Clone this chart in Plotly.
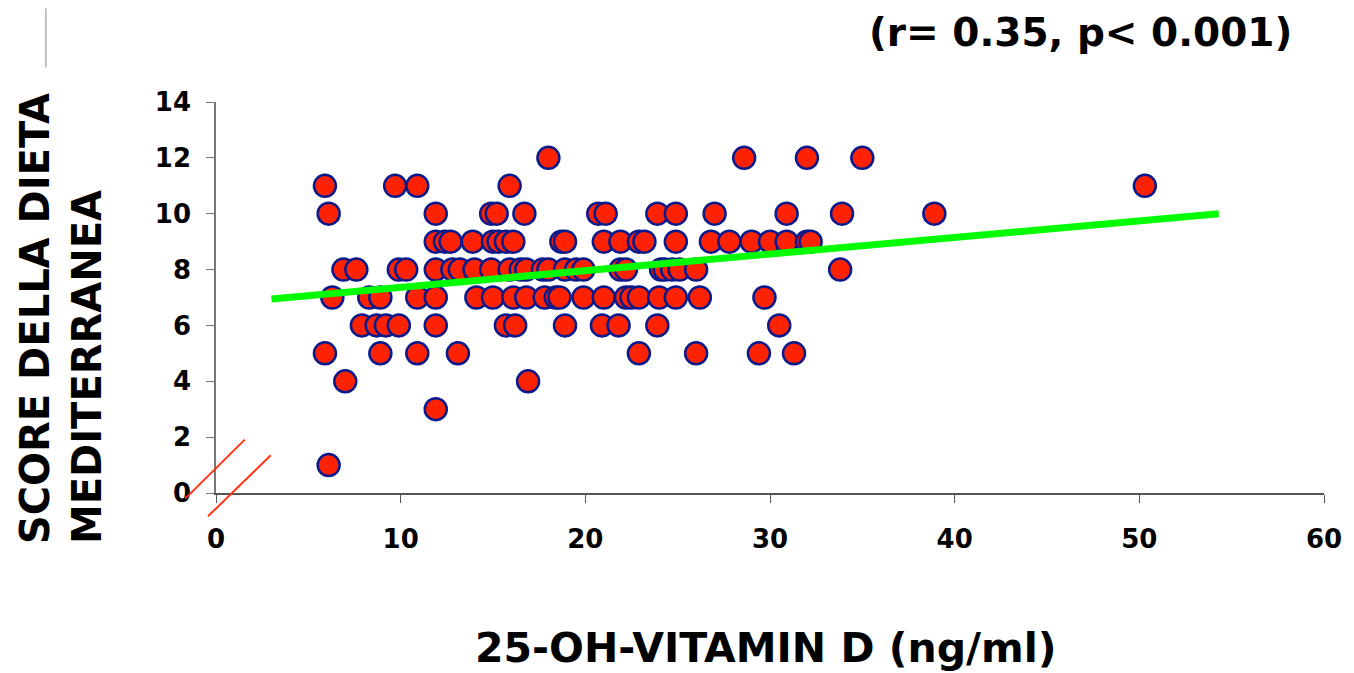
import plotly.graph_objects as go

# 25-OH-vitamin D (ng/ml) and Mediterranean diet score, read row by row
vit_d = [
    18.0, 28.6, 32.0, 35.0,
    5.9, 9.7, 10.9, 15.9, 50.3,
    6.1, 11.9, 14.9, 15.2, 16.7, 20.7, 21.1, 23.9, 24.9, 27.0, 30.9, 33.9, 38.9,
    11.9, 12.4, 12.7, 13.9, 15.0, 15.3, 15.7, 16.1, 18.7, 18.9, 21.0, 21.9, 22.9, 23.2, 24.9, 26.8, 27.8, 29.0, 30.0, 30.9, 32.0, 32.2,
    6.9, 7.6, 9.9, 10.3, 11.9, 12.8, 13.2, 14.0, 14.9, 15.9, 16.5, 16.8, 17.7, 18.0, 18.9, 19.5, 19.9, 21.9, 22.2, 24.1, 24.3, 24.7, 25.1, 26.0, 33.8,
    6.3, 8.3, 8.9, 10.9, 11.9, 14.1, 15.0, 16.1, 16.8, 17.8, 18.4, 18.6, 19.9, 21.0, 22.2, 22.5, 22.9, 24.0, 24.9, 26.2, 29.7,
    7.9, 8.7, 9.2, 9.9, 11.9, 15.7, 16.2, 18.9, 20.9, 21.8, 23.9, 30.5,
    5.9, 8.9, 10.9, 13.1, 22.9, 26.0, 29.4, 31.3,
    7.0, 16.9,
    11.9,
    6.1,
]
score = (
    [12] * 4 + [11] * 5 + [10] * 13 + [9] * 22 + [8] * 25 + [7] * 21
    + [6] * 12 + [5] * 8 + [4] * 2 + [3] * 1 + [1] * 1
)

trend_x = [3.0, 54.3]
trend_y = [6.95, 10.0]

x_ticks = [0, 10, 20, 30, 40, 50, 60]
y_ticks = [0, 2, 4, 6, 8, 10, 12, 14]

stat_text = "(r= 0.35, p< 0.001)"
x_title = "25-OH-VITAMIN D (ng/ml)"
y_title = "SCORE DELLA DIETA<br>MEDITERRANEA"

FONT = "Comic Sans MS, Verdana, DejaVu Sans, sans-serif"

fig = go.Figure()
fig.add_trace(go.Scatter(
    x=vit_d, y=score, mode="markers",
    marker=dict(size=22, color="#ff2200", line=dict(color="#0a1a8c", width=2.5)),
    showlegend=False, cliponaxis=False,
))
fig.add_trace(go.Scatter(
    x=trend_x, y=trend_y, mode="lines",
    line=dict(color="#00ff00", width=7),
    showlegend=False,
))

fig.update_layout(
    width=1346, height=665,
    margin=dict(l=208, r=20, t=94, b=180),
    paper_bgcolor="white", plot_bgcolor="white",
    font=dict(family=FONT, color="black"),
    xaxis=dict(
        range=[0, 60], tickvals=x_ticks, showgrid=False, zeroline=False,
        showline=True, linecolor="#555555", linewidth=1.5,
        ticks="outside", ticklen=8, tickcolor="#555555",
        ticklabelstandoff=14,
        tickfont=dict(size=26, family=FONT, weight="bold"),
    ),
    yaxis=dict(
        range=[0, 14], tickvals=y_ticks, showgrid=False, zeroline=False,
        showline=True, linecolor="#777777", linewidth=1.5,
        ticks="outside", ticklen=8, tickcolor="#777777",
        ticklabelstandoff=10,
        tickfont=dict(size=26, family=FONT, weight="bold"),
    ),
    annotations=[
        dict(text=stat_text, xref="paper", yref="paper", x=0.78, y=1.178,
             showarrow=False, xanchor="center", yanchor="middle",
             font=dict(size=39, family=FONT, weight="bold")),
        dict(text=x_title, xref="paper", yref="paper", x=0.4964, y=-0.397,
             showarrow=False, xanchor="center", yanchor="middle",
             font=dict(size=41, family=FONT, weight="bold")),
        dict(text=y_title, xref="paper", yref="paper", x=-0.140, y=0.447,
             showarrow=False, xanchor="center", yanchor="middle",
             textangle=-90, align="left",
             font=dict(size=40, family=FONT, weight="bold")),
    ],
    shapes=[
        dict(type="line", xref="paper", yref="paper",
             x0=-0.0278, y0=-0.0143, x1=0.0260, y1=0.1366,
             line=dict(color="#ff3311", width=2)),
        dict(type="line", xref="paper", yref="paper",
             x0=-0.0072, y0=-0.0596, x1=0.0494, y1=0.0964,
             line=dict(color="#ff3311", width=2)),
        dict(type="line", xref="paper", yref="paper",
             x0=-0.1535, y0=1.2396, x1=-0.1535, y1=1.0887,
             line=dict(color="#888888", width=1)),
    ],
)

fig.write_html("out.html")
